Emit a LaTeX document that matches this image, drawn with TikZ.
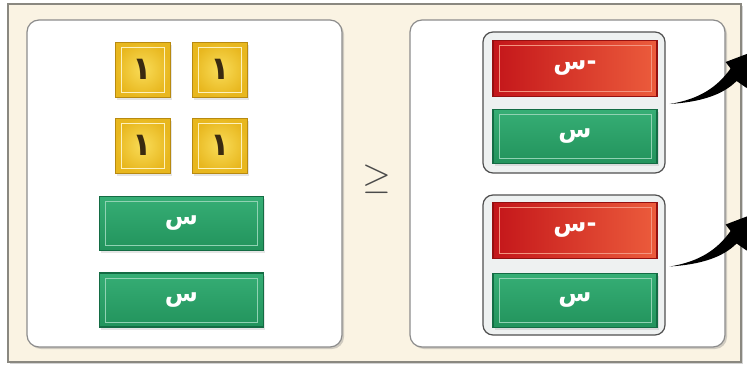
\documentclass[tikz,border=0pt]{standalone}
\usepackage{fontspec}
\usepackage{graphicx}
\TeXXeTstate=1
\newfontfamily\arabicfont[Script=Arabic]{DejaVu Sans}
\usetikzlibrary{shadows}
\definecolor{cream}{HTML}{FAF3E3}
\definecolor{frameedge}{HTML}{8A8880}
\definecolor{paneledge}{HTML}{8C8C8C}
\definecolor{tileedge}{HTML}{B88A10}
\definecolor{tilein}{HTML}{F9DC58}
\definecolor{tileout}{HTML}{E8B71E}
\definecolor{digit}{HTML}{3A2A10}
\definecolor{gtop}{HTML}{36AE75}
\definecolor{gbot}{HTML}{22935C}
\definecolor{gedge}{HTML}{146C44}
\definecolor{rleft}{HTML}{C4161A}
\definecolor{rright}{HTML}{EC5C3C}
\definecolor{redge}{HTML}{941010}
\definecolor{boxfill}{HTML}{EEF1F1}
\definecolor{boxedge}{HTML}{505050}
\definecolor{geq}{HTML}{4A4A4A}
\tikzset{
  bevel/.style={path picture={\draw[#1, line width=0.8pt]
     ([shift={(6pt,5pt)}]path picture bounding box.south west) rectangle
     ([shift={(-6pt,-5pt)}]path picture bounding box.north east);}},
  frame/.style={draw=frameedge, line width=1.4pt, fill=cream,
     drop shadow={shadow xshift=1.5pt, shadow yshift=-2pt, opacity=0.35}},
  panel/.style={draw=paneledge, line width=1.2pt, fill=white, rounded corners=12pt,
     drop shadow={shadow xshift=2pt, shadow yshift=-2pt, opacity=0.35}},
  tile/.style={draw=tileedge, line width=0.9pt, inner color=tilein, outer color=tileout,
     minimum width=55pt, minimum height=55pt, inner sep=0pt,
     bevel={white!60!tilein},
     drop shadow={shadow xshift=1.5pt, shadow yshift=-2.5pt, opacity=0.2},
     font=\arabicfont\bfseries\fontsize{32}{32}\selectfont, text=digit},
  gbar/.style={draw=gedge, line width=1.2pt, top color=gtop, bottom color=gbot,
     minimum width=164pt, minimum height=54pt, inner sep=0pt,
     bevel={white!45!gtop},
     drop shadow={shadow xshift=1.5pt, shadow yshift=-2.5pt, opacity=0.2},
     font=\arabicfont\bfseries\fontsize{24}{24}\selectfont, text=white},
  rbar/.style={draw=redge, line width=1.2pt, left color=rleft, right color=rright,
     minimum width=164pt, minimum height=56pt, inner sep=0pt,
     bevel={white!35!rright},
     font=\arabicfont\bfseries\fontsize{24}{24}\selectfont, text=white},
  container/.style={draw=boxedge, line width=1.2pt, fill=boxfill, rounded corners=10pt,
     minimum width=182pt, inner sep=0pt},
  arrowc/.style={fill=black},
}
\begin{document}
\begin{tikzpicture}[x=1pt,y=-1pt]
\useasboundingbox (0,0) rectangle (747,372);
\clip (0,0) rectangle (747,372);
% outer frame and panels
\path[frame] (8,4) rectangle (741,362);
\path[panel] (27,20) rectangle (342,347);
\path[panel] (410,20) rectangle (725,347);
% left panel
\node[tile] (t1) at (142.5,69.5) {\beginR ١\endR};
\node[tile] (t2) at (220,69.5) {\beginR ١\endR};
\node[tile] (t3) at (142.5,145.5) {\beginR ١\endR};
\node[tile] (t4) at (220,145.5) {\beginR ١\endR};
\node[gbar] (g1) at (181.5,223.5) {\beginR س\endR};
\node[gbar] (g2) at (181.5,300) {\beginR س\endR};
% relation
\node[text=geq, inner sep=0pt] (rel) at (377,179) {\scalebox{3.7}{$\geq$}};
% right panel
\node[container, minimum height=141pt] (c1) at (574,102.5) {};
\node[container, minimum height=140pt] (c2) at (574,265) {};
\node[rbar] (r1) at (575,68.5) {\beginR -س\endR};
\node[gbar] (g3) at (575,136.5) {\beginR س\endR};
\node[rbar] (r2) at (575,230.5) {\beginR -س\endR};
\node[gbar] (g4) at (575,300.5) {\beginR س\endR};
% arrows
\foreach \c in {c1,c2}{
  \begin{scope}[shift={(\c.east)}]
    \fill[arrowc] (4,1.5) .. controls (35,-0.5) and (57,-7.5) .. (71,-21.5)
      -- (81,-14.5) -- (97,-54.5) -- (60,-40.5) -- (65,-34)
      .. controls (52,-16) and (35,-3.5) .. (4,1.5) -- cycle;
  \end{scope}
}
\end{tikzpicture}
\end{document}
